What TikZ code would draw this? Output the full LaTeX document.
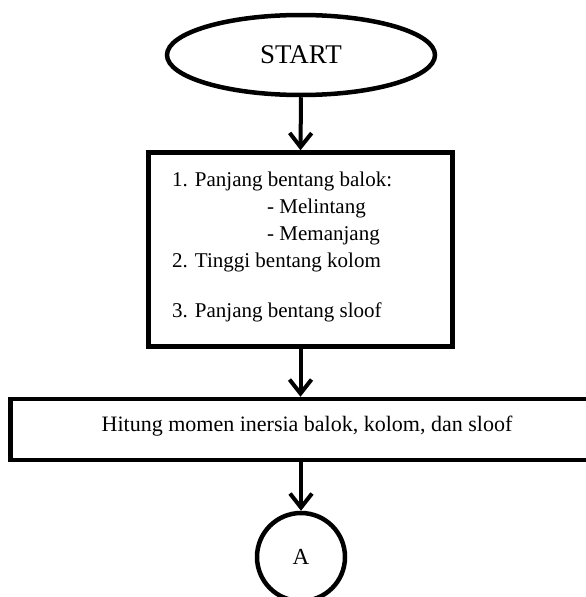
\documentclass[tikz,border=0pt]{standalone}
\usepackage{fontspec}
\setmainfont{Liberation Serif}
\usetikzlibrary{shapes.geometric,arrows.meta}
\begin{document}
\begin{tikzpicture}[x=1pt,y=-1pt,
  flow/.style={draw=black, line width=4.5pt, inner sep=0pt},
  link/.style={line width=4pt, -{Straight Barb[length=14pt,width=22pt]}},
  bodytext/.style={inner sep=0pt, font=\fontsize{21}{27}\selectfont},
]
\useasboundingbox (0,0) rectangle (586,597);

% start terminal
\node[flow, ellipse, minimum width=268pt, minimum height=80pt,
      font=\fontsize{27}{32}\selectfont] (start) at (301,55) {START};

% input data box
\node[flow, rectangle, minimum width=304pt, minimum height=194pt] (data) at (300.5,249.5) {};
\node[bodytext, anchor=base west, align=left] (datatext) at (172,317)
  {1. Panjang bentang balok:\\
   \hspace*{95pt}- Melintang\\
   \hspace*{95pt}- Memanjang\\
   2. Tinggi bentang kolom\\[23pt]
   3. Panjang bentang sloof};

% calculation box (runs past the right edge)
\node[flow, rectangle, minimum width=591pt, minimum height=61pt] (calc) at (306,429.5) {};
\node[bodytext, anchor=base, font=\fontsize{22}{27}\selectfont] (calctext) at (307,431)
  {Hitung momen inersia balok, kolom, dan sloof};

% off-page connector
\node[flow, circle, minimum size=88pt, font=\fontsize{23}{27}\selectfont] (conn) at (301,557) {A};

\draw[link] (start.south) -- (data.north);
\draw[link] (data.south) -- (data.south |- calc.north);
\draw[link] (conn.north |- calc.south) -- (conn.north);
\end{tikzpicture}
\end{document}
